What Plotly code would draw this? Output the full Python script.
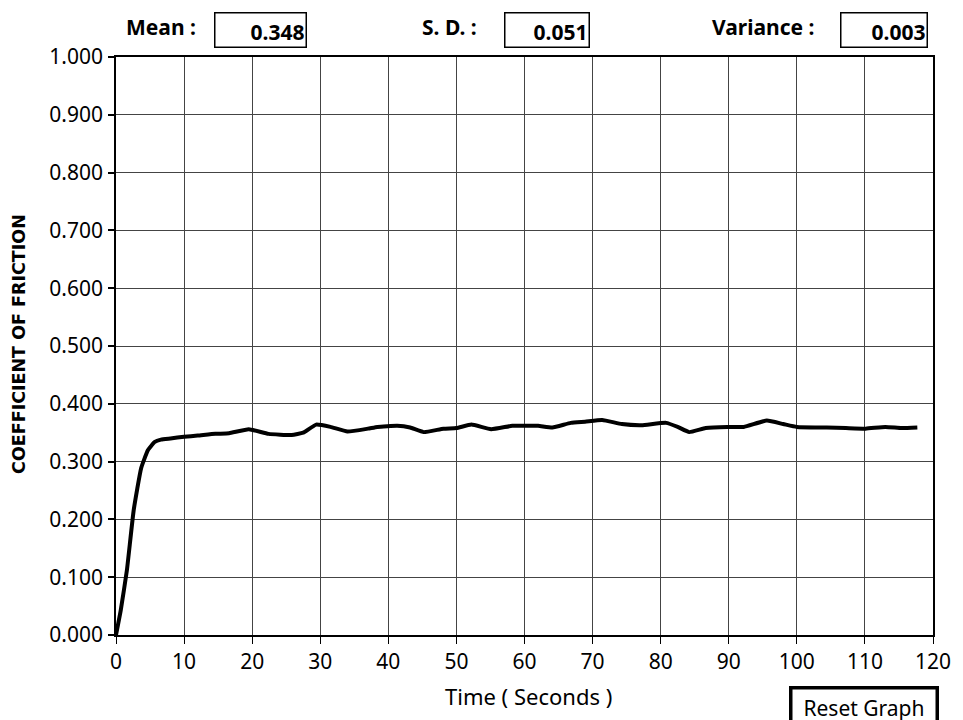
import plotly.graph_objects as go

time_s = [0, 0.7, 1.6, 2.6, 3.7, 4.7, 5.7, 6.6, 8, 10, 12, 14.6, 16.6, 19.5, 22.4, 25.8, 27.5,
          29.4, 31.5, 34, 37, 38.4, 41.3, 43.2, 45.2, 48.1, 50, 52.2, 55.1, 58.2, 60.2, 62,
          64.1, 66.8, 68.9, 71.4, 74.3, 77.2, 80.8, 82.5, 84.2, 86.6, 89.8, 92.2, 95.6, 98,
          100, 104.4, 107.2, 110.1, 113, 115.4, 117.7]
cof = [0.000, 0.043, 0.112, 0.216, 0.289, 0.320, 0.334, 0.338, 0.340, 0.343, 0.345, 0.348, 0.349,
       0.356, 0.348, 0.346, 0.350, 0.364, 0.360, 0.352, 0.357, 0.360, 0.362, 0.359, 0.351, 0.357,
       0.358, 0.364, 0.356, 0.362, 0.362, 0.362, 0.359, 0.367, 0.369, 0.372, 0.365, 0.363,
       0.367, 0.360, 0.351, 0.358, 0.360, 0.360, 0.371, 0.365, 0.360, 0.359, 0.358, 0.357,
       0.360, 0.358, 0.359]

x_ticks = list(range(0, 121, 10))
y_ticks = [i / 10 for i in range(11)]
stat_labels = ["Mean :", "S. D. :", "Variance :"]
stat_values = ["0.348", "0.051", "0.003"]

L, R, T, B = 116, 941, 57, 635
W, H = 963, 720
pw, ph = R - L, B - T

def px(x):
    return (x - L) / pw

def py(y):
    return (B - y) / ph

FONT = "Noto Sans"

fig = go.Figure()
fig.add_trace(go.Scatter(x=time_s, y=cof, mode="lines",
                         line=dict(color="black", width=4, shape="spline", smoothing=0.4),
                         hoverinfo="skip"))

fig.update_layout(
    width=W, height=H,
    margin=dict(l=L, r=W - R, t=T, b=H - B),
    paper_bgcolor="white", plot_bgcolor="white",
    showlegend=False,
    font=dict(family=FONT, color="black", size=16),
)
fig.update_xaxes(range=[0, 120], tickvals=x_ticks, ticks="outside", ticklen=7, tickwidth=1,
                 tickcolor="black", showgrid=True, gridcolor="#444", gridwidth=1,
                 showline=True, linecolor="black", linewidth=1.5, mirror=True, zeroline=False,
                 tickfont=dict(size=21, family=FONT))
fig.update_yaxes(range=[0, 1.0], tickvals=y_ticks, tickformat=".3f", ticks="outside", ticklen=6,
                 tickwidth=1.5, tickcolor="black", showgrid=True, gridcolor="#444", gridwidth=1,
                 showline=True, linecolor="black", linewidth=1.5, mirror=True, zeroline=False,
                 tickfont=dict(size=21, family=FONT), ticklabelstandoff=1)

ann = []
# axis titles
ann.append(dict(text="Time ( Seconds )", x=px(533), y=py(696), xref="paper", yref="paper",
                xanchor="center", yanchor="middle",
                showarrow=False, font=dict(size=22, family=FONT)))
ann.append(dict(text="<b>COEFFICIENT OF FRICTION</b>", x=px(18), y=py(344), xref="paper",
                yref="paper", xanchor="center", yanchor="middle", showarrow=False,
                textangle=-90, font=dict(size=17.5, family="DejaVu Sans")))

label_cx = [161, 453, 769]
box_l = [213, 506, 845]
box_r = [311, 597, 938]
for lab, val, lx, bl, br in zip(stat_labels, stat_values, label_cx, box_l, box_r):
    ann.append(dict(text="<b>" + lab + "</b>", x=px(lx), y=py(27), xref="paper", yref="paper",
                    xanchor="center", yanchor="middle",
                    showarrow=False, font=dict(size=21, family=FONT)))
    ann.append(dict(text="<b>" + val + "</b>", x=px((bl + br) / 2), y=py(29.5), xref="paper",
                    yref="paper", xanchor="center", yanchor="middle",
                    showarrow=False, width=br - bl - 10, height=31, align="right",
                    valign="bottom", bordercolor="black", borderwidth=1.5, borderpad=1,
                    font=dict(size=21, family=FONT)))

ann.append(dict(text="Reset Graph", x=px(871), y=py(705), xref="paper", yref="paper",
                xanchor="center", yanchor="middle",
                showarrow=False, width=143, height=32, bordercolor="black", borderwidth=3.5,
                borderpad=0, valign="bottom", font=dict(size=21, family=FONT)))

fig.update_layout(annotations=ann)
fig.write_html("out.html")
